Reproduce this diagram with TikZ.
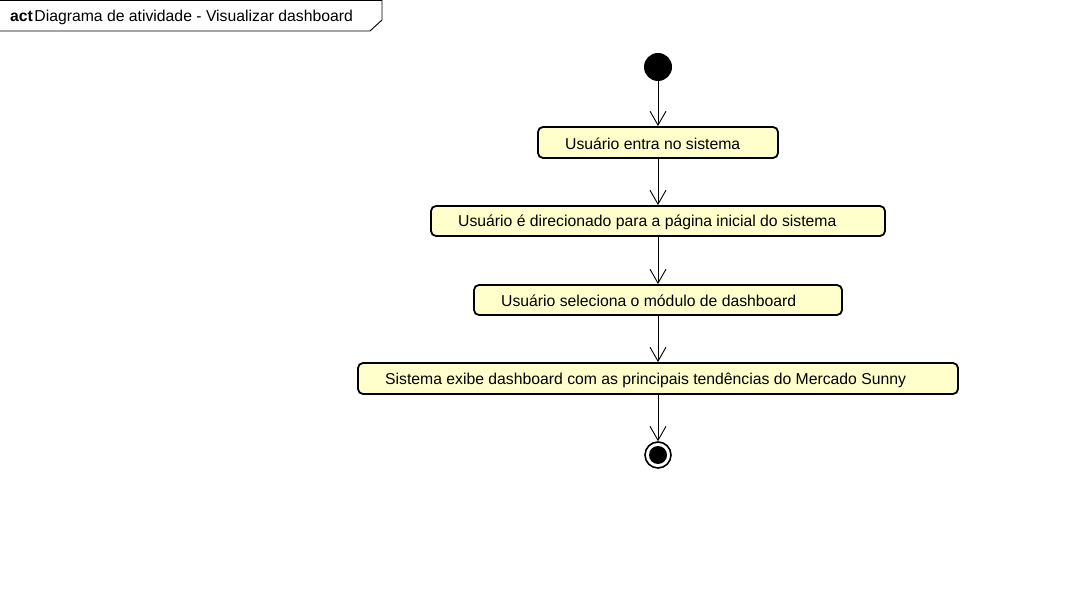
\documentclass[tikz,border=0pt]{standalone}
\usepackage{fontspec}
\setmainfont{Liberation Sans}
\usetikzlibrary{arrows.meta}
\definecolor{actfill}{RGB}{255,255,204}
\begin{document}
\begin{tikzpicture}[x=1pt,y=-1pt,
  action/.style={draw=black,line width=1.8pt,fill=actfill,rounded corners=5pt,inner sep=0pt},
  flow/.style={line width=0.9pt,-{Straight Barb[length=14pt,width=16pt,line width=0.9pt]}},
  lbl/.style={font=\fontsize{15.75}{18}\selectfont,inner sep=0pt,anchor=west}]
\useasboundingbox (0,0) rectangle (1088,593);
\fill[white] (0,0) rectangle (1088,593);
% frame header
\draw[line width=0.9pt] (0,0.5) -- (382,0.5) -- (382,20) -- (370,31) -- (0,31);
\node[lbl] (title) at (10,17) {\textbf{act}\hspace{1.5pt}Diagrama de atividade - Visualizar dashboard};
% initial node
\node[circle,fill=black,minimum size=28pt,inner sep=0pt] (start) at (658,67) {};
% actions
\node[action,minimum width=240pt,minimum height=31pt] (a1) at (658,142.5) {};
\node[lbl] (t1) at (565,144) {Usuário entra no sistema};
\node[action,minimum width=454pt,minimum height=30pt] (a2) at (658,221) {};
\node[lbl] (t2) at (458,222.5) {Usuário é direcionado para a página inicial do sistema};
\node[action,minimum width=368pt,minimum height=30pt] (a3) at (658,300) {};
\node[lbl] (t3) at (501,301) {Usuário seleciona o módulo de dashboard};
\node[action,minimum width=600pt,minimum height=31pt] (a4) at (658,378.5) {};
\node[lbl] (t4) at (385,380) {Sistema exibe dashboard com as principais tendências do Mercado Sunny};
% final node
\node[circle,draw=black,line width=1.6pt,fill=white,minimum size=26pt,inner sep=0pt] (end) at (658,455) {};
\node[circle,fill=black,minimum size=18pt,inner sep=0pt] (endin) at (658,455) {};
% flows
\draw[flow] (start) -- (a1);
\draw[flow] (a1) -- (a2);
\draw[flow] (a2) -- (a3);
\draw[flow] (a3) -- (a4);
\draw[flow] (a4) -- (end);
\end{tikzpicture}
\end{document}
